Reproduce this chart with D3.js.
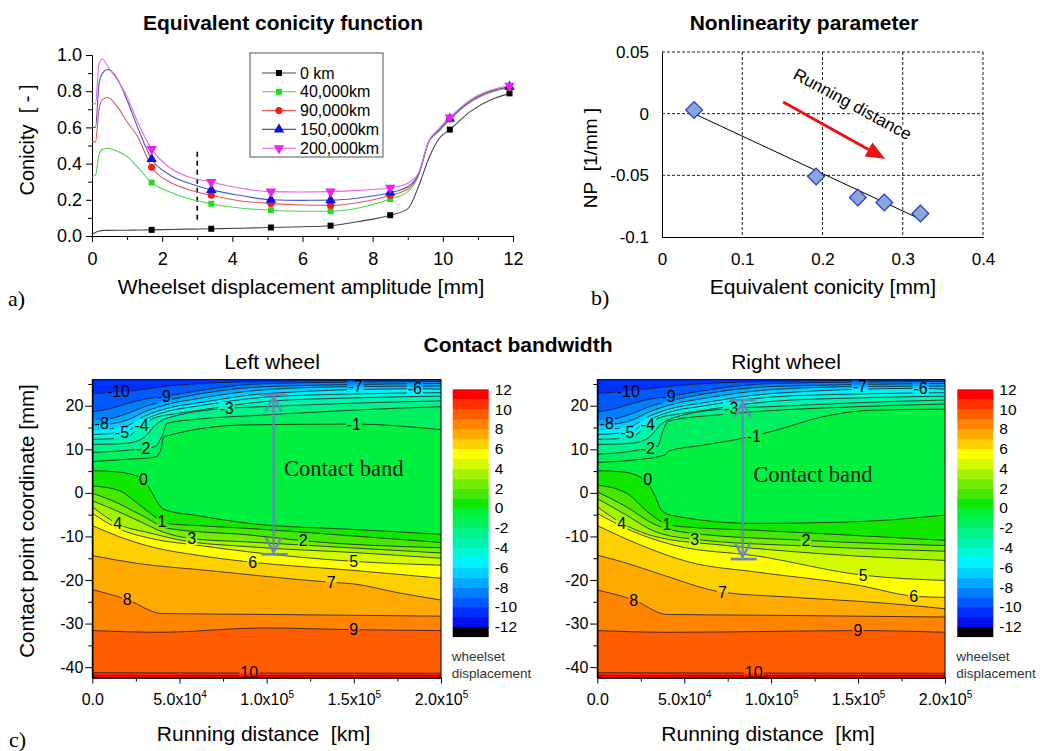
<!DOCTYPE html>
<html>
<head>
<meta charset="utf-8">
<script src="https://cdn.jsdelivr.net/npm/d3@7"></script>
<style>
  body { margin: 0; background: #fff; }
  svg { font-family: "Liberation Sans", Arial, sans-serif; }
</style>
</head>
<body>
<svg id="fig" width="1045" height="751"></svg>
<script>
const FONT = '"Liberation Sans", Arial, sans-serif'
const SERIF = '"Liberation Serif", "Times New Roman", serif'

// ---------- a) equivalent conicity function
const ampX   = [0, 0.1, 0.2, 0.3, 0.45, 0.7, 1.0, 1.3, 1.7, 2.2, 2.7, 3.4, 4.2, 5.1, 6.0, 6.8, 7.6, 8.5, 9.0, 9.3, 9.6, 9.9, 10.2, 10.8, 11.4, 11.9]
const con0   = [0.010, 0.020, 0.028, 0.030, 0.031, 0.032, 0.032, 0.033, 0.034, 0.036, 0.038, 0.040, 0.043, 0.047, 0.051, 0.057, 0.080, 0.115, 0.150, 0.270, 0.430, 0.540, 0.588, 0.690, 0.755, 0.788]
const con40  = [0.330, 0.335, 0.450, 0.480, 0.485, 0.470, 0.440, 0.380, 0.295, 0.245, 0.210, 0.178, 0.155, 0.142, 0.137, 0.137, 0.155, 0.204, 0.245, 0.330, 0.520, 0.580, 0.645, 0.740, 0.795, 0.820]
const con90  = [0.520, 0.520, 0.700, 0.755, 0.765, 0.720, 0.630, 0.550, 0.380, 0.300, 0.260, 0.225, 0.195, 0.179, 0.171, 0.169, 0.185, 0.225, 0.260, 0.335, 0.520, 0.585, 0.648, 0.745, 0.800, 0.822]
const con150 = [0.600, 0.600, 0.840, 0.900, 0.920, 0.876, 0.750, 0.600, 0.425, 0.340, 0.295, 0.255, 0.225, 0.200, 0.197, 0.198, 0.210, 0.240, 0.272, 0.338, 0.522, 0.590, 0.648, 0.748, 0.802, 0.825]
const con200 = [0.730, 0.730, 0.950, 0.978, 0.935, 0.870, 0.770, 0.630, 0.480, 0.380, 0.330, 0.298, 0.265, 0.245, 0.243, 0.245, 0.252, 0.267, 0.292, 0.345, 0.525, 0.595, 0.655, 0.755, 0.808, 0.830]
const seriesNames = ['0 km', '40,000km', '90,000km', '150,000km', '200,000km']
const markerX = [1.7, 3.4, 5.1, 6.8, 8.5, 10.2, 11.9]
const dashX = 3
const dashY = [0.09, 0.47]

// ---------- b) nonlinearity parameter
const npConicity = [0.040, 0.192, 0.244, 0.277, 0.322]
const npValue    = [0.003, -0.051, -0.068, -0.072, -0.081]
const fitX = [0.040, 0.320]
const fitY = [0.000, -0.085]
const arrowX = [0.151, 0.278]
const arrowY = [0.0095, -0.0365]

// ---------- c) contact bandwidth contours (running distance km, contact coordinate mm)
const levels = d3.range(-10, 12)
const top10 = [[0,22.8],[20000,23.3],[45000,24.6],[100000,25.6],[200000,25.9]]
const top9  = [[0,18.6],[10000,19.3],[20000,20.5],[30000,21.5],[41000,22.1],[60000,23.4],[100000,25.1],[200000,25.6]]
const top8  = [[0,16.6],[10000,17.0],[20000,18.2],[30000,19.8],[45000,21.4],[60000,22.6],[100000,24.4],[200000,25.1]]
const top7  = [[0,15.5],[10000,15.8],[20000,16.7],[30000,18.6],[45000,20.5],[60000,21.6],[100000,23.7],[151000,24.4],[200000,24.5]]
const top5  = [[0,13.4],[10000,13.6],[20000,14.2],[30000,16.8],[45000,18.9],[60000,19.9],[100000,22.0],[150000,22.7],[200000,23.0]]

const leftContours = [
  top10, top9, top8, top7,
  [[0,14.5],[10000,14.7],[20000,15.4],[30000,17.6],[45000,19.6],[60000,20.6],[100000,22.8],[185000,23.9],[200000,23.8]],
  top5,
  [[0,12.3],[10000,12.4],[20000,12.8],[28000,15.5],[37000,17.4],[45000,18.0],[60000,18.9],[100000,21.0],[150000,21.8],[200000,22.2]],
  [[0,11.1],[10000,11.2],[20000,11.4],[30000,12.8],[36000,15.5],[42000,17.0],[77000,19.4],[100000,19.8],[150000,20.6],[200000,21.1]],
  [[0,9.3],[15000,9.6],[29000,10.2],[36000,10.6],[40000,13.0],[43000,16.0],[60000,16.9],[100000,17.9],[150000,19.0],[200000,19.8]],
  [[0,7.2],[20000,7.7],[36000,8.2],[39000,9.5],[41000,12.8],[45000,13.3],[88000,15.6],[150000,15.8],[200000,14.5]],
  [[0,5.1],[15000,4.8],[22000,4.3],[29000,3.2],[34000,0.2],[38000,-2.5],[41000,-3.8],[60000,-5.2],[90000,-7.0],[150000,-8.4],[200000,-9.5]],
  [[0,1.6],[15000,0.6],[26000,-2.4],[36000,-5.5],[42000,-7.0],[60000,-7.5],[91000,-8.2],[150000,-9.9],[200000,-11.4]],
  [[0,-0.1],[11000,-1.7],[28000,-5.1],[44000,-8.2],[91000,-9.7],[121000,-11.0],[200000,-12.6]],
  [[0,-1.8],[11000,-3.6],[28000,-6.7],[40000,-8.9],[57000,-10.5],[91000,-11.3],[200000,-13.8]],
  [[0,-3.2],[14000,-7.0],[34000,-9.3],[50000,-10.8],[91000,-12.4],[150000,-13.7],[200000,-15.0]],
  [[0,-4.7],[15000,-8.2],[34000,-10.5],[60000,-12.0],[91000,-13.6],[149000,-15.7],[200000,-16.6]],
  [[0,-7.5],[15000,-10.0],[35000,-12.5],[60000,-14.3],[91000,-15.9],[150000,-17.8],[200000,-19.6]],
  [[0,-14.4],[26000,-16.2],[66000,-17.8],[136000,-20.5],[150000,-20.9],[175000,-22.9],[200000,-24.6]],
  [[0,-22.2],[20000,-24.5],[40000,-27.7],[100000,-27.9],[200000,-28.3]],
  [[0,-31.6],[40000,-32.0],[97000,-31.0],[150000,-31.4],[200000,-31.6]],
  [[0,-41.3],[200000,-41.4]],
  [[0,-41.9],[200000,-41.9]]
]

const rightContours = [
  [[0,22.8],[18000,23.4],[45000,24.6],[100000,25.6],[200000,25.9]],
  top9, top8, top7,
  [[0,14.5],[10000,14.7],[20000,15.4],[30000,17.6],[45000,19.6],[60000,20.6],[100000,22.8],[186000,24.0],[200000,23.8]],
  top5,
  [[0,12.3],[10000,12.4],[20000,12.8],[29000,15.8],[37000,17.4],[45000,18.0],[60000,18.9],[100000,21.0],[150000,21.8],[200000,22.2]],
  [[0,11.1],[10000,11.2],[20000,11.4],[30000,12.8],[36000,15.5],[42000,17.0],[77000,19.4],[100000,19.8],[150000,20.7],[200000,21.3]],
  [[0,8.9],[15000,9.3],[29000,10.3],[35000,10.8],[37000,13.3],[41000,16.5],[72000,18.0],[150000,19.8],[200000,20.4]],
  [[0,7.0],[20000,7.5],[39000,8.7],[41000,9.6],[60000,10.9],[88000,12.9],[103000,14.4],[130000,17.5],[159000,19.0],[200000,19.2]],
  [[0,5.1],[15000,4.8],[27000,3.0],[33000,-0.5],[37000,-4.0],[42000,-5.1],[90000,-7.0],[150000,-6.6],[200000,-5.1]],
  [[0,1.8],[17000,-0.1],[30000,-4.7],[40000,-7.2],[50000,-7.8],[92000,-8.6],[150000,-9.8],[200000,-10.9]],
  [[0,0.2],[15000,-2.8],[34000,-7.4],[53000,-9.2],[120000,-10.9],[200000,-12.1]],
  [[0,-1.3],[15000,-4.7],[34000,-9.0],[57000,-10.7],[120000,-12.2],[200000,-13.4]],
  [[0,-3.2],[13000,-6.7],[34000,-10.1],[72000,-12.0],[130000,-14.0],[200000,-15.5]],
  [[0,-4.7],[19000,-8.6],[44000,-12.0],[92000,-14.5],[153000,-18.9],[200000,-20.1]],
  [[0,-7.5],[25000,-12.0],[53000,-15.9],[92000,-18.2],[150000,-21.2],[182000,-23.7],[200000,-24.0]],
  [[0,-14.3],[15000,-15.9],[38000,-18.9],[72000,-22.8],[110000,-23.9],[168000,-25.4],[200000,-26.6]],
  [[0,-22.3],[21000,-24.6],[40000,-27.9],[100000,-28.1],[200000,-28.5]],
  [[0,-31.6],[40000,-32.0],[100000,-31.8],[150000,-31.6],[200000,-32.0]],
  [[0,-41.3],[200000,-41.4]],
  [[0,-41.9],[200000,-41.9]]
]

// [level, running distance, coordinate]
const leftLabels = [[-10,15000,23.2],[-9,41000,22.1],[-8,5400,16.0],[-7,151000,24.4],[-6,185000,23.9],[-5,17000,13.9],[-4,28300,15.6],[-3,77000,19.4],[-2,29300,10.2],[-1,150000,15.8],[0,29300,3.1],[1,40000,-6.6],[2,121000,-11.0],[3,57000,-10.5],[4,14500,-7.0],[5,150000,-15.7],[6,92000,-15.9],[7,137000,-20.5],[8,20000,-24.5],[9,150000,-31.4],[10,90000,-41.3]]
const rightLabels = [[-10,17800,23.3],[-9,41000,22.1],[-8,5400,16.0],[-7,151000,24.4],[-6,186000,24.0],[-5,17300,13.9],[-4,29000,15.8],[-3,77000,19.4],[-2,29000,10.3],[-1,90000,13.0],[0,29000,3.2],[1,40000,-7.2],[2,120000,-10.9],[3,56000,-10.6],[4,14000,-7.0],[5,153000,-18.9],[6,182000,-23.7],[7,72000,-22.8],[8,21000,-24.6],[9,150000,-31.6],[10,90000,-41.3]]

// colour bands from -12 up to 12
const bandColors = ['#000000','#0010f0','#0030ff','#0058ff','#0080ff','#00a8ff','#00d0ff','#00f0ff','#00f8d8','#00f4b0','#00f288','#00f060','#00f040',
                    '#10e800','#44e800','#74ee00','#a4f400','#d4fa00','#ffff00','#ffd000','#ffaa00','#ff8400','#ff5c00','#ff3000','#ff0000']
const cbTicks = d3.range(-12, 13, 2)
const distTicks = [0, 50000, 100000, 150000, 200000]
const distMinor = [25000, 75000, 125000, 175000]
const coordTicks = [-40, -30, -20, -10, 0, 10, 20]
const coordMinor = [-35, -25, -15, -5, 5, 15, 25]
const coordRange = [-42.4, 26]

// contact band arrows: left, right
const bandX = [104000, 83600]
const bandTop = [22.5, 21.3]
const bandBottom = [-14.1, -15.2]
const bandTextX = [110000, 89700]
const bandTextY = [3.8, 2.5]

let bandColor = k => bandColors[k + 12]

let svg = d3.select('#fig')
let defs = svg.append('defs')

let fixAxis = (g, size) => {
  g.attr('font-size', size).attr('font-family', FONT)
  g.selectAll('text').attr('fill', '#000')
  g.selectAll('line,path').attr('stroke', '#000')
}

// ================= a)
let xA = d3.scaleLinear().domain([0, 12]).range([92, 513])
let yA = d3.scaleLinear().domain([0, 1]).range([236, 55])
let gA = svg.append('g')

gA.append('g').attr('transform', 'translate(0,236)')
  .call(d3.axisBottom(xA).tickValues(d3.range(1, 12, 2)).tickSize(4).tickSizeOuter(0).tickFormat(''))
  .call(fixAxis, 18)
gA.append('g').attr('transform', 'translate(0,236)')
  .call(d3.axisBottom(xA).tickValues(d3.range(0, 13, 2)).tickSize(6).tickSizeOuter(0).tickPadding(10))
  .call(fixAxis, 18)
gA.append('g').attr('transform', 'translate(92,0)')
  .call(d3.axisLeft(yA).tickValues(d3.range(0.1, 1, 0.2)).tickSize(4).tickSizeOuter(0).tickFormat(''))
  .call(fixAxis, 18)
gA.append('g').attr('transform', 'translate(92,0)')
  .call(d3.axisLeft(yA).tickValues([0, 0.2, 0.4, 0.6, 0.8, 1.0]).tickSize(6).tickSizeOuter(0).tickPadding(4).tickFormat(d3.format('.1f')))
  .call(fixAxis, 18)

gA.append('line')
  .attr('x1', xA(dashX)).attr('x2', xA(dashX))
  .attr('y1', yA(dashY[0])).attr('y2', yA(dashY[1]))
  .attr('stroke', '#000').attr('stroke-width', 1.6).attr('stroke-dasharray', '5,4')

let conSeries = [con0, con40, con90, con150, con200]
let lineColors = ['#444444', '#4fd34f', '#e05858', '#4a55c8', '#e26ae2']
let markColors = ['#000000', '#22dd22', '#ee1c1c', '#1212e0', '#ee22ee']
let markTypes = [d3.symbolSquare, d3.symbolSquare, d3.symbolCircle, d3.symbolTriangle, d3.symbolTriangle]
let markRot = [0, 0, 0, 0, 180]
let markSize = [36, 36, 40, 48, 48]

let conLine = d3.line().x(d => xA(d[0])).y(d => yA(d[1])).curve(d3.curveMonotoneX)

conSeries.forEach((ys, i) => {
  let pts = ampX.map((x, j) => [x, ys[j]])
  gA.append('path').attr('d', conLine(pts))
    .attr('fill', 'none').attr('stroke', lineColors[i]).attr('stroke-width', 1.1)
  gA.selectAll(null)
    .data(pts.filter(p => markerX.includes(p[0])))
    .enter()
    .append('path')
    .attr('d', d3.symbol().type(markTypes[i]).size(markSize[i]))
    .attr('transform', d => `translate(${xA(d[0])},${yA(d[1])}) rotate(${markRot[i]})`)
    .attr('fill', markColors[i])
})

// legend
let leg = gA.append('g')
leg.append('rect').attr('x', 250).attr('y', 53).attr('width', 133).attr('height', 104)
  .attr('fill', '#fff').attr('stroke', '#555').attr('stroke-width', 1)
seriesNames.forEach((name, i) => {
  let yy = 73 + i * 18.8
  leg.append('line').attr('x1', 262).attr('x2', 296).attr('y1', yy).attr('y2', yy)
    .attr('stroke', lineColors[i]).attr('stroke-width', 1.1)
  leg.append('path').attr('d', d3.symbol().type(markTypes[i]).size(markSize[i]))
    .attr('transform', `translate(279,${yy}) rotate(${markRot[i]})`).attr('fill', markColors[i])
  leg.append('text').attr('x', 300).attr('y', yy).attr('dy', '0.35em')
    .attr('font-size', 16).text(name)
})

gA.append('text').attr('x', 283).attr('y', 30).attr('text-anchor', 'middle')
  .attr('font-size', 21).attr('font-weight', 'bold').text('Equivalent conicity function')
gA.append('text').attr('transform', 'translate(34,140) rotate(-90)').attr('text-anchor', 'middle')
  .attr('font-size', 20).text('Conicity\u00a0 [ - ]')
gA.append('text').attr('x', 301).attr('y', 294).attr('text-anchor', 'middle')
  .attr('font-size', 21).text('Wheelset displacement amplitude [mm]')
gA.append('text').attr('x', 8).attr('y', 306).attr('font-family', SERIF)
  .attr('font-size', 22).text('a)')

// ================= b)
let xB = d3.scaleLinear().domain([0, 0.4]).range([662, 983])
let yB = d3.scaleLinear().domain([-0.1, 0.05]).range([237, 52])
let gB = svg.append('g')

let gridB = gB.append('g').attr('stroke', '#000').attr('stroke-width', 0.9).attr('stroke-dasharray', '3,2')
gridB.selectAll(null).data([0.1, 0.2, 0.3, 0.4]).enter().append('line')
  .attr('x1', d => xB(d)).attr('x2', d => xB(d)).attr('y1', yB(0.05)).attr('y2', yB(-0.1))
gridB.selectAll(null).data([0.05, 0, -0.05]).enter().append('line')
  .attr('x1', xB(0)).attr('x2', xB(0.4)).attr('y1', d => yB(d)).attr('y2', d => yB(d))

gB.append('g').attr('transform', `translate(0,${yB(-0.1)})`)
  .call(d3.axisBottom(xB).tickValues([0, 0.1, 0.2, 0.3, 0.4]).tickSize(0).tickPadding(16)
    .tickFormat(d => d === 0 ? '0' : d3.format('.1f')(d)))
  .call(fixAxis, 17)
gB.append('g').attr('transform', `translate(${xB(0)},0)`)
  .call(d3.axisLeft(yB).tickValues([0.05, 0, -0.05, -0.1]).tickSize(0).tickPadding(13)
    .tickFormat(d => String(d)))
  .call(fixAxis, 17)

gB.append('line')
  .attr('x1', xB(fitX[0])).attr('y1', yB(fitY[0]))
  .attr('x2', xB(fitX[1])).attr('y2', yB(fitY[1]))
  .attr('stroke', '#000').attr('stroke-width', 1)

gB.selectAll(null).data(npConicity).enter().append('path')
  .attr('d', d3.symbol().type(d3.symbolSquare).size(140))
  .attr('transform', (d, i) => `translate(${xB(d)},${yB(npValue[i])}) rotate(45)`)
  .attr('fill', '#8ca6d8').attr('stroke', '#1f3ad0').attr('stroke-width', 1.2)

// red arrow
let ax0 = xB(arrowX[0]), ay0 = yB(arrowY[0]), ax1 = xB(arrowX[1]), ay1 = yB(arrowY[1])
let ang = Math.atan2(ay1 - ay0, ax1 - ax0)
let headL = 19, headW = 8
let bx0 = ax1 - headL * Math.cos(ang), by0 = ay1 - headL * Math.sin(ang)
gB.append('line').attr('x1', ax0).attr('y1', ay0).attr('x2', bx0).attr('y2', by0)
  .attr('stroke', '#ee1111').attr('stroke-width', 3)
gB.append('path')
  .attr('d', `M${ax1},${ay1}L${bx0 + headW * Math.sin(ang)},${by0 - headW * Math.cos(ang)}L${bx0 - headW * Math.sin(ang)},${by0 + headW * Math.cos(ang)}Z`)
  .attr('fill', '#ee1111')
gB.append('text')
  .attr('transform', `translate(${xB(0.162)},${yB(0.029)}) rotate(28.5)`)
  .attr('font-size', 17).attr('stroke', '#fff').attr('stroke-width', 5).attr('paint-order', 'stroke')
  .text('Running distance')

gB.append('text').attr('x', 804).attr('y', 30).attr('text-anchor', 'middle')
  .attr('font-size', 21).attr('font-weight', 'bold').text('Nonlinearity parameter')
gB.append('text').attr('transform', 'translate(597,158) rotate(-90)').attr('text-anchor', 'middle')
  .attr('font-size', 19).text('NP\u00a0 [1/mm ]')
gB.append('text').attr('x', 823).attr('y', 294).attr('text-anchor', 'middle')
  .attr('font-size', 21).text('Equivalent conicity [mm]')
gB.append('text').attr('x', 591).attr('y', 305).attr('font-family', SERIF)
  .attr('font-size', 22).text('b)')

// ================= c)
let drawContour = (side, xr, contours, labels, cbx, title, titleX) => {
  let x = d3.scaleLinear().domain([0, 200000]).range(xr)
  let y = d3.scaleLinear().domain(coordRange).range([677.6, 379.6])
  let px0 = x(0), px1 = x(200000), py0 = y(coordRange[1]), py1 = y(coordRange[0])
  let g = svg.append('g')

  defs.append('clipPath').attr('id', 'clip' + side)
    .append('rect').attr('x', px0).attr('y', py0).attr('width', px1 - px0).attr('height', py1 - py0)
  let plot = g.append('g').attr('clip-path', `url(#clip${side})`)

  plot.append('rect').attr('x', px0).attr('y', py0).attr('width', px1 - px0).attr('height', py1 - py0)
    .attr('fill', bandColor(-10))
  let area = d3.area().x(d => x(d[0])).y0(py1 + 2).y1(d => y(d[1])).curve(d3.curveMonotoneX)
  levels.forEach((lv, i) => {
    plot.append('path').attr('d', area(contours[i])).attr('fill', bandColor(lv + 1))
  })

  let mask = defs.append('mask').attr('id', 'mask' + side).attr('maskUnits', 'userSpaceOnUse')
    .attr('x', px0 - 5).attr('y', py0 - 5).attr('width', px1 - px0 + 10).attr('height', py1 - py0 + 10)
  mask.append('rect').attr('x', px0 - 5).attr('y', py0 - 5).attr('width', px1 - px0 + 10).attr('height', py1 - py0 + 10)
    .attr('fill', '#fff')

  let line = d3.line().x(d => x(d[0])).y(d => y(d[1])).curve(d3.curveMonotoneX)
  plot.append('g').attr('mask', `url(#mask${side})`)
    .selectAll('path').data(contours).enter().append('path')
    .attr('d', line).attr('fill', 'none').attr('stroke', '#1a1a1a').attr('stroke-width', 0.8)

  let labs = plot.append('g').attr('font-size', 16).attr('text-anchor', 'middle')
  labs.selectAll('text').data(labels).enter().append('text')
    .attr('x', d => x(d[1])).attr('y', d => y(d[2])).attr('dy', '0.35em')
    .text(d => String(d[0]))
  labs.selectAll('text').each(function () {
    let b = this.getBBox()
    mask.append('rect').attr('x', b.x - 1).attr('y', b.y + 2).attr('width', b.width + 2).attr('height', b.height - 4)
      .attr('fill', '#000')
  })

  g.append('rect').attr('x', px0).attr('y', py0).attr('width', px1 - px0).attr('height', py1 - py0)
    .attr('fill', 'none').attr('stroke', '#000').attr('stroke-width', 1)

  // axes
  g.append('g').attr('transform', `translate(0,${py1})`)
    .call(d3.axisBottom(x).tickValues(distMinor).tickSize(4).tickSizeOuter(0).tickFormat(''))
    .call(fixAxis, 16)
  let bx = g.append('g').attr('transform', `translate(0,${py1})`)
    .call(d3.axisBottom(x).tickValues(distTicks).tickSize(6).tickSizeOuter(0).tickFormat(''))
    .call(fixAxis, 16)
  bx.selectAll('.tick').append('text')
    .attr('y', 27).attr('text-anchor', 'middle').attr('fill', '#000')
    .each(function (d) {
      let t = d3.select(this)
      if (d === 0) { t.text('0.0'); return }
      let e = Math.floor(Math.log10(d))
      t.append('tspan').text((d / Math.pow(10, e)).toFixed(1) + 'x10')
      t.append('tspan').attr('dy', -7).attr('font-size', 10).text(e)
    })
  g.append('g').attr('transform', `translate(${px0},0)`)
    .call(d3.axisLeft(y).tickValues(coordMinor).tickSize(4).tickSizeOuter(0).tickFormat(''))
    .call(fixAxis, 16)
  g.append('g').attr('transform', `translate(${px0},0)`)
    .call(d3.axisLeft(y).tickValues(coordTicks).tickSize(7).tickSizeOuter(0).tickPadding(2).tickFormat(d => String(d)))
    .call(fixAxis, 16)

  // colour bar
  let cb = d3.scaleLinear().domain([-13, 12]).range([636.7, 389.3])
  d3.range(-12, 13).forEach(k => {
    g.append('rect').attr('x', cbx).attr('y', cb(k)).attr('width', 36)
      .attr('height', cb(k - 1) - cb(k) + 0.4).attr('fill', bandColor(k))
  })
  g.selectAll(null).data(cbTicks).enter().append('text')
    .attr('x', cbx + 42).attr('y', d => cb(d)).attr('dy', '0.35em')
    .attr('font-size', 15.5).text(d => String(d))
  g.append('text').attr('x', cbx - 1).attr('y', 661).attr('font-size', 13.5).attr('fill', '#333').text('wheelset')
  g.append('text').attr('x', cbx - 1).attr('y', 678).attr('font-size', 13.5).attr('fill', '#333').text('displacement')

  // contact band arrow
  let ab = g.append('g').attr('stroke', '#6786bd').attr('stroke-width', 2.2).attr('fill', 'none')
  let cx = x(bandX[side]), yt = y(bandTop[side]), yb = y(bandBottom[side])
  ab.append('line').attr('x1', cx).attr('x2', cx).attr('y1', yt + 2).attr('y2', yb - 2)
  ab.append('line').attr('x1', cx - 13).attr('x2', cx + 13).attr('y1', yt).attr('y2', yt).attr('stroke-width', 2.6)
  ab.append('line').attr('x1', cx - 12).attr('x2', cx + 14).attr('y1', yb).attr('y2', yb).attr('stroke-width', 2.6)
  ab.append('path').attr('d', `M${cx - 8},${yt + 17}L${cx},${yt + 2}L${cx + 8},${yt + 17}`)
  ab.append('path').attr('d', `M${cx - 8},${yb - 17}L${cx},${yb - 2}L${cx + 8},${yb - 17}`)
  g.append('text').attr('x', x(bandTextX[side])).attr('y', y(bandTextY[side]))
    .attr('font-family', SERIF).attr('font-size', 22.5).attr('fill', '#1a1a1a').text('Contact band')

  g.append('text').attr('x', titleX).attr('y', 369).attr('text-anchor', 'middle')
    .attr('font-size', 21).text(title)
  g.append('text').attr('x', (px0 + px1) / 2 - 3).attr('y', 741).attr('text-anchor', 'middle')
    .attr('font-size', 21).text('Running distance\u00a0 [km]')
}

drawContour(0, [92.3, 441], leftContours, leftLabels, 452.7, 'Left wheel', 272)
drawContour(1, [597.3, 945], rightContours, rightLabels, 957.3, 'Right wheel', 786)

svg.append('text').attr('x', 518).attr('y', 352).attr('text-anchor', 'middle')
  .attr('font-size', 21).attr('font-weight', 'bold').text('Contact bandwidth')
svg.append('text').attr('transform', 'translate(34,521) rotate(-90)').attr('text-anchor', 'middle')
  .attr('font-size', 20.5).text('Contact point coordinate [mm]')
svg.append('text').attr('x', 9).attr('y', 747).attr('font-family', SERIF)
  .attr('font-size', 22).text('c)')
</script>
</body>
</html>
